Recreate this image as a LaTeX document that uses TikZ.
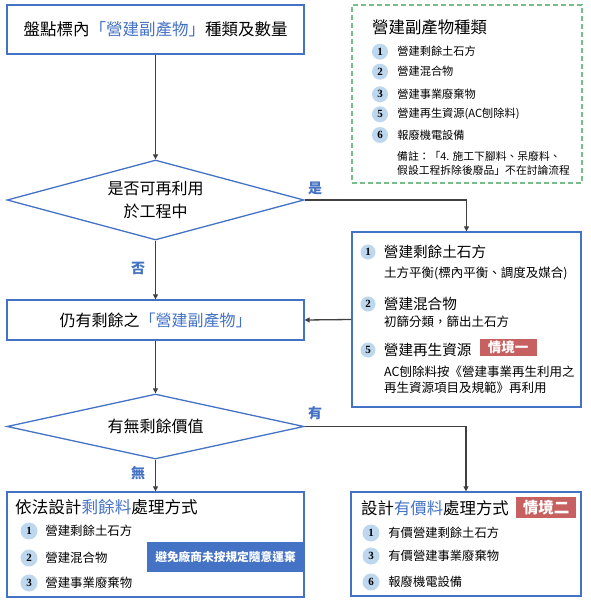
\documentclass[tikz,border=0pt]{standalone}
\usepackage{fontspec}
\setmainfont{Noto Sans CJK TC}
\newfontfamily\numfont{Liberation Serif}
\usetikzlibrary{arrows.meta,positioning,shapes.geometric}
\definecolor{flowblue}{RGB}{68,114,196}
\definecolor{numblue}{RGB}{189,215,238}
\definecolor{tagred}{RGB}{199,96,96}
\definecolor{kindgreen}{RGB}{120,190,140}
\definecolor{linegray}{RGB}{64,64,64}
\newcommand{\fsize}[1]{\fontsize{#1}{#1}\selectfont}

\begin{document}
\begin{tikzpicture}[x=1pt,y=-1pt,>={Triangle[length=5pt,width=5pt]},
  flowbox/.style={draw=flowblue,line width=1.3pt,rectangle,inner sep=0pt},
  flowdiam/.style={draw=flowblue,line width=1.3pt,diamond,inner sep=0pt,shape aspect=3.7,align=center},
  numdot/.style={circle,fill=numblue,inner sep=0pt,minimum size=#1,font=\numfont\bfseries\fsize{11}},
  numdot/.default=16pt,
  itemtxt/.style={inner sep=0pt,anchor=west},
  tagbox/.style={fill=tagred,text=white,inner sep=0pt},
  flow/.style={->,linegray,line width=1.3pt},
  yesno/.style={text=flowblue,font=\fsize{14}\bfseries}]
  \useasboundingbox (0,0) rectangle (590,602);
  \fill[white] (0,0) rectangle (590,602);

  \node[flowbox,minimum width=297pt,minimum height=49pt,font=\fsize{16.5}] (count) at (155.5,29.5)
    {盤點標內\textcolor{flowblue}{「營建副產物」}種類及數量};
  \node[flowdiam,minimum width=297pt,minimum height=80pt,font=\fontsize{16}{23}\selectfont] (reuse) at (155.5,200)
    {是否可再利用\\於工程中};
  \node[flowbox,minimum width=297pt,minimum height=40pt,font=\fsize{16}] (remain) at (155.5,320)
    {仍有剩餘之\textcolor{flowblue}{「營建副產物」}};
  \node[flowdiam,minimum width=297pt,minimum height=65pt,font=\fsize{16}] (value) at (155.5,426.5)
    {有無剩餘價值};
  \node[flowbox,minimum width=297pt,minimum height=105pt] (waste) at (155.5,544.5) {};
  \node[flowbox,minimum width=229pt,minimum height=175pt] (onsite) at (466.5,319.5) {};
  \node[flowbox,minimum width=230pt,minimum height=104pt] (valued) at (466,544) {};
  \node[draw=kindgreen,line width=1.5pt,dash pattern=on 5pt off 3pt,minimum width=230pt,minimum height=178pt,inner sep=0pt] (kinds) at (467,94) {};

  \draw[flow] (count) -- (reuse);
  \draw[flow] (reuse) -- (remain);
  \draw[flow] (reuse.east) -| (onsite.north);
  \draw[flow] (onsite.west) -- (remain.east);
  \draw[flow] (remain) -- (value);
  \draw[flow] (value) -- (waste);
  \draw[flow] (value.east) -| (valued.north);

  \node[yesno] (yes) at (315,188) {是};
  \node[yesno] (no) at (138,268) {否};
  \node[yesno] (have) at (315,413) {有};
  \node[yesno] (none) at (138,473) {無};

  \node[itemtxt,font=\fsize{16.4}] (kindtitle) at (372,27) {營建副產物種類};
  \foreach \n/\t/\y in {1/營建剩餘土石方/51.7,2/營建混合物/71.7,3/營建事業廢棄物/94.3,5/營建再生資源(AC刨除料)/114.3,6/報廢機電設備/135}{
    \node[numdot] (kind\n) at (380,\y) {\n};
    \node[itemtxt,right=9pt of kind\n,font=\fsize{11.2}] {\t};
  }
  \node[itemtxt,align=left,font=\fontsize{10.8}{14}\selectfont] (note) at (397,163)
    {備註：「4. 施工下腳料、呆廢料、\\假設工程拆除後廢品」不在討論流程};

  \node[numdot=15pt] (on1) at (368,252) {1};
  \node[itemtxt,right=8pt of on1,font=\fsize{14.6}] (on1t) {營建剩餘土石方};
  \node[itemtxt,font=\fsize{12.5}] at (384,273) {土方平衡(標內平衡、調度及媒合)};
  \node[numdot=15pt] (on2) at (368,304) {2};
  \node[itemtxt,right=8pt of on2,font=\fsize{14.6}] (on2t) {營建混合物};
  \node[itemtxt,font=\fsize{12.5}] at (384,322) {初篩分類，篩出土石方};
  \node[numdot=15pt] (on5) at (368,350) {5};
  \node[itemtxt,right=8pt of on5,font=\fsize{14.6}] (on5t) {營建再生資源};
  \node[tagbox,minimum width=57pt,minimum height=17pt,font=\fsize{13.5}\bfseries] (case1) at (508,347) {情境一};
  \node[itemtxt,align=left,font=\fontsize{12.5}{16}\selectfont] at (384,380)
    {AC刨除料按《營建事業再生利用之\\再生資源項目及規範》再利用};

  \node[itemtxt,font=\fsize{16.6}] (wastetitle) at (15,507) {依法設計\textcolor{flowblue}{剩餘料}處理方式};
  \foreach \n/\t/\y in {1/營建剩餘土石方/531,2/營建混合物/558,3/營建事業廢棄物/583}{
    \node[numdot=17pt] (w\n) at (29,\y) {\n};
    \node[itemtxt,right=7.5pt of w\n,font=\fsize{12.4}] {\t};
  }
  \node[fill=flowblue,text=white,minimum width=157pt,minimum height=30pt,inner sep=0pt,font=\fsize{11.7}\bfseries] (warn) at (225.5,557)
    {避免廠商未按規定隨意運棄};

  \node[itemtxt,font=\fsize{16.4}] (valuedtitle) at (361,508) {設計\textcolor{flowblue}{有價料}處理方式};
  \node[tagbox,minimum width=60pt,minimum height=21pt,font=\fsize{15.5}\bfseries] (case2) at (546,507.5) {情境二};
  \foreach \n/\t/\y in {1/有價營建剩餘土石方/533,3/有價營建事業廢棄物/556,6/報廢機電設備/582}{
    \node[numdot=17pt] (v\n) at (371,\y) {\n};
    \node[itemtxt,right=8.5pt of v\n,font=\fsize{12.3}] {\t};
  }
\end{tikzpicture}
\end{document}
